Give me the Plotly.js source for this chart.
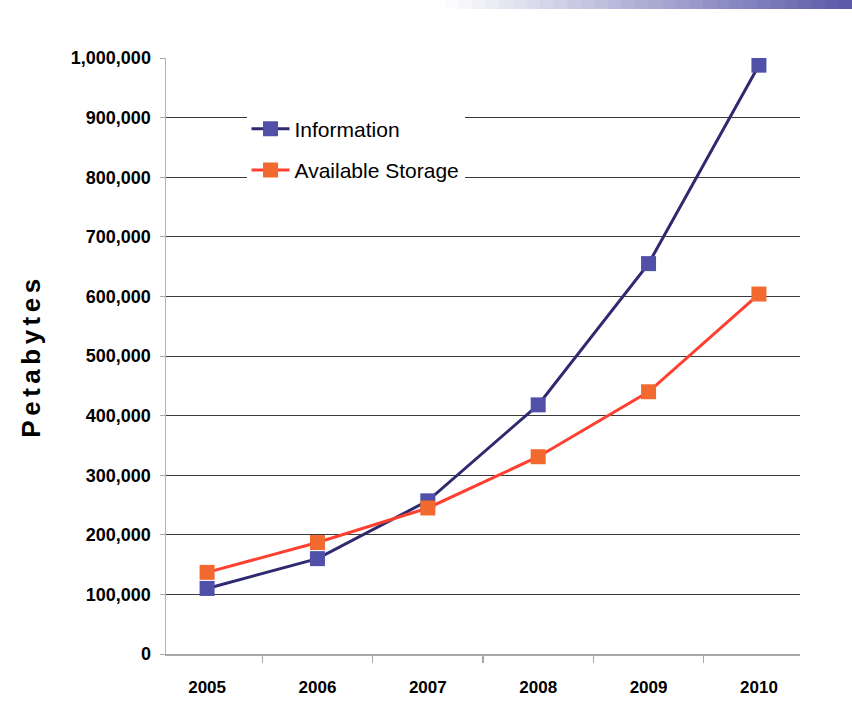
<!DOCTYPE html>
<html>
<head>
<meta charset="utf-8">
<script src="https://cdn.plot.ly/plotly-3.0.1.min.js"></script>
<style>
html,body{margin:0;padding:0;background:#fff;}
#chart{width:852px;height:709px;}
#chart .ytitle{letter-spacing:4.5px;}
</style>
</head>
<body>
<div id="chart"></div>
<script>
var years = ["2005", "2006", "2007", "2008", "2009", "2010"];
var information = [110000, 160000, 257000, 418000, 655000, 988000];
var availableStorage = [137000, 187000, 245000, 331000, 440000, 604000];
var yTickVals = [0, 100000, 200000, 300000, 400000, 500000, 600000, 700000, 800000, 900000, 1000000];
var yTickText = ["0", "100,000", "200,000", "300,000", "400,000", "500,000", "600,000", "700,000", "800,000", "900,000", "1,000,000"];

var sans = '"Liberation Sans", Arial, sans-serif';

var traces = [
  {
    x: years, y: information, name: "Information", type: "scatter", mode: "lines+markers",
    legendgroup: "a",
    line: {color: "#2f2a70", width: 3},
    marker: {symbol: "square", size: 15, color: "#5050a8"}
  },
  {
    x: years, y: availableStorage, name: "Available Storage", type: "scatter", mode: "lines+markers",
    legendgroup: "b",
    line: {color: "#ff4030", width: 3},
    marker: {symbol: "square", size: 15, color: "#f26a30"}
  }
];

// decorative gradient bar in top-right corner
var shapes = [];
var steps = 30, x0 = 445, x1 = 852;
for (var i = 0; i < steps; i++) {
  var t = (i + 0.5) / steps;
  var r = Math.round(255 + (88 - 255) * t), g = Math.round(255 + (88 - 255) * t), b = Math.round(255 + (168 - 255) * t);
  shapes.push({
    type: "rect", xref: "paper", yref: "paper", layer: "above",
    x0: (x0 + (x1 - x0) * i / steps - 166) / 634,
    x1: (x0 + (x1 - x0) * (i + 1) / steps - 166) / 634 + 0.001,
    y0: (654 - 9) / 596, y1: 654 / 596,
    line: {width: 0}, fillcolor: "rgb(" + r + "," + g + "," + b + ")"
  });
}

var layout = {
  width: 852, height: 709,
  margin: {l: 166, r: 52, t: 58, b: 55},
  paper_bgcolor: "#ffffff", plot_bgcolor: "#ffffff",
  showlegend: true,
  legend: {
    x: 0.127, y: 0.915, xanchor: "left", yanchor: "top",
    bgcolor: "#ffffff", borderwidth: 0,
    font: {family: sans, size: 21, color: "#000"},
    traceorder: "grouped", tracegroupgap: 11,
    itemwidth: 38
  },
  xaxis: {
    type: "category", tickson: "boundaries",
    showgrid: false, showline: true, linecolor: "#a8a8a8", linewidth: 1.5,
    ticks: "outside", ticklen: 7, tickcolor: "#a8a8a8", tickwidth: 1.5,
    ticklabelstandoff: 17,
    tickfont: {family: sans, size: 17, color: "#000", weight: "bold"},
    fixedrange: true
  },
  yaxis: {
    range: [0, 1000000], tickvals: yTickVals, ticktext: yTickText,
    showgrid: true, gridcolor: "#3a3a3a", gridwidth: 1,
    zeroline: false, showline: true, linecolor: "#b4b4b4", linewidth: 1.5,
    ticks: "outside", ticklen: 5, tickcolor: "#a8a8a8",
    ticklabelstandoff: 5,
    tickfont: {family: sans, size: 18, color: "#000", weight: "bold"},
    title: {text: "Petabytes", standoff: 22, font: {family: sans, size: 26, color: "#000", weight: "bold"}},
    fixedrange: true
  },
  shapes: shapes
};

Plotly.newPlot("chart", traces, layout, {displayModeBar: false, staticPlot: true});
</script>
</body>
</html>
